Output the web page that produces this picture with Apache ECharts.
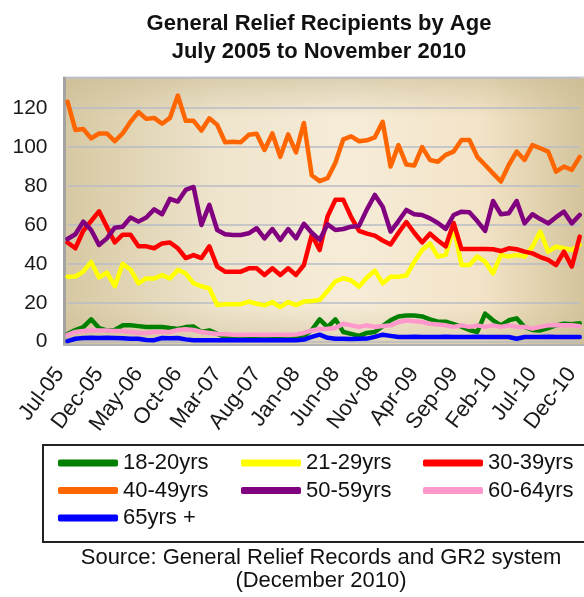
<!DOCTYPE html>
<html><head><meta charset="utf-8">
<script src="https://cdn.jsdelivr.net/npm/echarts@6/dist/echarts.min.js"></script>
<style>html,body{margin:0;padding:0;background:#fff}#c{width:584px;height:597px}</style>
</head><body><div id="c"></div>
<script>
const months = ['Jul-05','Aug-05','Sep-05','Oct-05','Nov-05','Dec-05',
 'Jan-06','Feb-06','Mar-06','Apr-06','May-06','Jun-06','Jul-06','Aug-06','Sep-06','Oct-06','Nov-06','Dec-06',
 'Jan-07','Feb-07','Mar-07','Apr-07','May-07','Jun-07','Jul-07','Aug-07','Sep-07','Oct-07','Nov-07','Dec-07',
 'Jan-08','Feb-08','Mar-08','Apr-08','May-08','Jun-08','Jul-08','Aug-08','Sep-08','Oct-08','Nov-08','Dec-08',
 'Jan-09','Feb-09','Mar-09','Apr-09','May-09','Jun-09','Jul-09','Aug-09','Sep-09','Oct-09','Nov-09','Dec-09',
 'Jan-10','Feb-10','Mar-10','Apr-10','May-10','Jun-10','Jul-10','Aug-10','Sep-10','Oct-10','Nov-10','Dec-10'];

const age18_20 = [4,6,7.5,11.5,7,5.8,6,8.4,8.4,8, 7.6,7.6,7.6,7,6.5,7.5,7.8,5,5.8,4,
 2.5,2,2.5,2,2,2.5,2,2,2.5,2, 3,6,11.5,7.5,11.5,5,4,3,4.5,5,
 8,11,13,13.5,13.5,13,11.5,10.3,10.3,9, 7.7,6,5,14.4,11,8.4,11,12,7.6,6, 5.8,7,8.4,9.2,9,9.5];
const age21_29 = [33.4,33.5,36,41,33,35.5,28.5,40,37,30, 32.5,32.5,34.3,32.5,37,35,30,28.5,27.4,18.9,
 19.3,19.3,19.3,20.6,19.5,18.7,20.4,17.8,20.4,18.8, 20.6,20.9,21.4,26,31,32.6,31.5,28.3,33,36.5,
 30,33.4,33.4,34,41,47.1,50.5,43.7,44.6,59, 39.4,39.4,43.7,41.1,35.1,44.6,43.7,44.6,43.7,48.8, 56.6,46.3,48.8,48,47.1,49.7];
const age30_39 = [51,48,57,62,67,59,51,55,55,49, 49,48,50.5,51,48,43,44.5,43,49,38.6,
 36,36,36,37.7,37.7,34.3,37.7,34.3,37.7,34.3, 39.4,54.9,47.1,64.3,72.9,72.9,64,57,55.5,54.5,
 52,50,56,61.5,56,51,55.5,52,49,61, 47.6,47.6,47.6,47.6,47.5,46.6,48,47.5,46.3,45.4, 43.5,42,39.4,46.3,38.6,54];
const age40_49 = [123.4,108.8,109.3,104.5,107,107,103,107,113,118, 114.5,115,112,115,126.5,113.5,113.5,108.5,114.8,111.4,
 102.5,102.8,102.5,106.3,106.8,98.5,107,95,106.5,97.3, 112.4,85.5,82.5,84,92,104,105.5,103,103.5,105,
 113,90,101,91,90.5,100,93.4,92.5,96,97.7, 103.7,103.7,95,90.8,86.5,82.3,90.8,97.7,93.4,101, 99.4,97.7,87.4,90,88.3,95];
const age50_59 = [52.8,55.2,61.7,57.4,49.7,53.1,58.6,59.1,63.8,61.7, 63.8,68,65.5,73.4,72,78,79.5,60,70.3,57.4,
 55.2,54.8,54.8,55.7,58.3,53.1,57.9,52.3,57.9,53.1, 60.6,56,52.3,60.3,57.4,57.9,59.1,59.5,68,75.4,
 69.4,56.6,62,67.7,65.5,65.1,63.4,61,58,65.1, 66.8,66.5,62,56.9,72.3,65.5,66,72.3,60.8,65.5, 63,60.8,64,66.8,60.8,65.1];
const age60_64 = [3.5,5,5.5,5.8,5.8,5.8,5.5,5.5,5,4.5, 4.5,5,5,5,6,6.4,6,5,4.5,4,
 3.8,3.6,3.5,3.6,3.6,3.5,3.6,3.6,3.5,3.7, 4.5,5.8,6.5,6.7,7,9.2,8.4,7.6,8.4,7.6,
 8,8.4,10.1,10.9,10.5,10.1,9.2,8.8,8.4,7.6, 8.4,7.6,8.4,7.6,8.4,7.6,8.4,7.6,7.6,6.7, 7.6,8.4,8.4,8.4,8.4,8];
const age65plus = [0.3,1.5,1.9,2,1.9,2,1.9,1.8,1.5,1.5, 0.9,0.8,1.9,1.8,1.9,1.2,0.7,0.8,0.7,0.7,
 0.8,0.7,0.7,0.8,0.7,0.7,0.8,0.7,0.7,0.8, 1.1,2.5,3.6,2,1.5,1.5,1.4,1.5,1.6,2.5,
 3.6,3,2.4,2.4,2.5,2.4,2.4,2.4,2.5,2.4, 2.4,2.4,2.5,2.4,2.4,2.4,2.4,1.5,2.4,2.4, 2.4,2.5,2.4,2.4,2.4,2.4];

const seriesNames = ['18-20yrs','21-29yrs','30-39yrs','40-49yrs','50-59yrs','60-64yrs','65yrs +'];
const seriesData = [age18_20, age21_29, age30_39, age40_49, age50_59, age60_64, age65plus];
const seriesColors = ['#008000','#ffff00','#ff0000','#ff6600','#800080','#ff99cc','#0000ff'];
const yMax = 135.5, yStep = 20;

const FONT = '"Liberation Sans", Arial, sans-serif';
const chart = echarts.init(document.getElementById('c'), null, {renderer: 'canvas'});

const legendBase = {
  orient: 'vertical', top: 452, itemGap: 5.5, itemWidth: 60, itemHeight: 7,
  icon: 'roundRect', selectedMode: false, padding: 0,
  textStyle: {fontSize: 22, color: '#111', fontFamily: FONT, lineHeight: 20}
};

chart.setOption({
  animation: false,
  backgroundColor: '#ffffff',
  title: [
    {text: 'General Relief Recipients by Age\nJuly 2005 to November 2010', left: 319, top: 10, textAlign: 'center', padding: 0,
     textStyle: {fontSize: 22, fontWeight: 'bold', lineHeight: 28, color: '#111', fontFamily: FONT}},
    {text: 'Source: General Relief Records and GR2 system\n(December 2010)', left: 321, top: 546, textAlign: 'center', padding: 0,
     textStyle: {fontSize: 22, fontWeight: 'normal', lineHeight: 23, color: '#111', fontFamily: FONT}}
  ],
  legend: [
    Object.assign({}, legendBase, {left: 58, data: [seriesNames[0], seriesNames[3], seriesNames[6]]}),
    Object.assign({}, legendBase, {left: 241, data: [seriesNames[1], seriesNames[4]]}),
    Object.assign({}, legendBase, {left: 423, data: [seriesNames[2], seriesNames[5]]})
  ],
  grid: {left: 67.5, right: 4.3, top: 78, bottom: 255.3, containLabel: false},
  xAxis: {
    type: 'category', data: months, boundaryGap: false,
    axisLine: {show: false}, axisTick: {show: false},
    axisLabel: {interval: 4, rotate: 53, margin: 18, padding: [0, 13, 0, 0], fontSize: 22, color: '#1a1a1a', fontFamily: FONT}
  },
  yAxis: {
    type: 'value', min: 0, max: yMax, interval: yStep,
    axisLine: {show: false}, axisTick: {show: false},
    axisLabel: {fontSize: 21, margin: 20, color: '#1a1a1a', fontFamily: FONT, showMaxLabel: false},
    splitLine: {lineStyle: {color: '#b8bbc6', width: 1.5}}
  },
  graphic: [
    {type: 'rect', z: -20, shape: {x: 63, y: 77, width: 521, height: 268},
     style: {fill: new echarts.graphic.LinearGradient(0, 0, 1, 0, [
       {offset: 0, color: '#d6c8a2'}, {offset: 0.3, color: '#efe5cd'}, {offset: 0.55, color: '#f6ecd8'},
       {offset: 0.8, color: '#f3e4c8'}, {offset: 1, color: '#d4c49c'}])}},
    {type: 'rect', z: -19, shape: {x: 63, y: 77, width: 521, height: 268},
     style: {fill: new echarts.graphic.LinearGradient(0, 0, 0, 1, [
       {offset: 0, color: 'rgba(200,185,145,0.55)'}, {offset: 0.15, color: 'rgba(200,185,145,0)'},
       {offset: 0.85, color: 'rgba(200,185,145,0)'}, {offset: 1, color: 'rgba(200,185,145,0.5)'}])}},
    {type: 'line', z: -18, shape: {x1: 63, y1: 77.5, x2: 584, y2: 77.5}, style: {stroke: '#c9c9c9', lineWidth: 2}},
    {type: 'line', z: -18, shape: {x1: 64.5, y1: 77, x2: 64.5, y2: 346}, style: {stroke: '#a3a3a3', lineWidth: 3}},
    {type: 'line', z: -18, shape: {x1: 63, y1: 345, x2: 584, y2: 345}, style: {stroke: '#b3b3b3', lineWidth: 2}},
    {type: 'rect', z: 10, shape: {x: 43, y: 445, width: 560, height: 97},
     style: {fill: 'transparent', stroke: '#222', lineWidth: 2}}
  ],
  series: seriesNames.map((n, k) => ({
    name: n, type: 'line', data: seriesData[k], symbol: 'none', showSymbol: false,
    itemStyle: {color: seriesColors[k]},
    lineStyle: {color: seriesColors[k], width: 4.5, cap: 'round', join: 'round'}
  }))
});
</script></body></html>
